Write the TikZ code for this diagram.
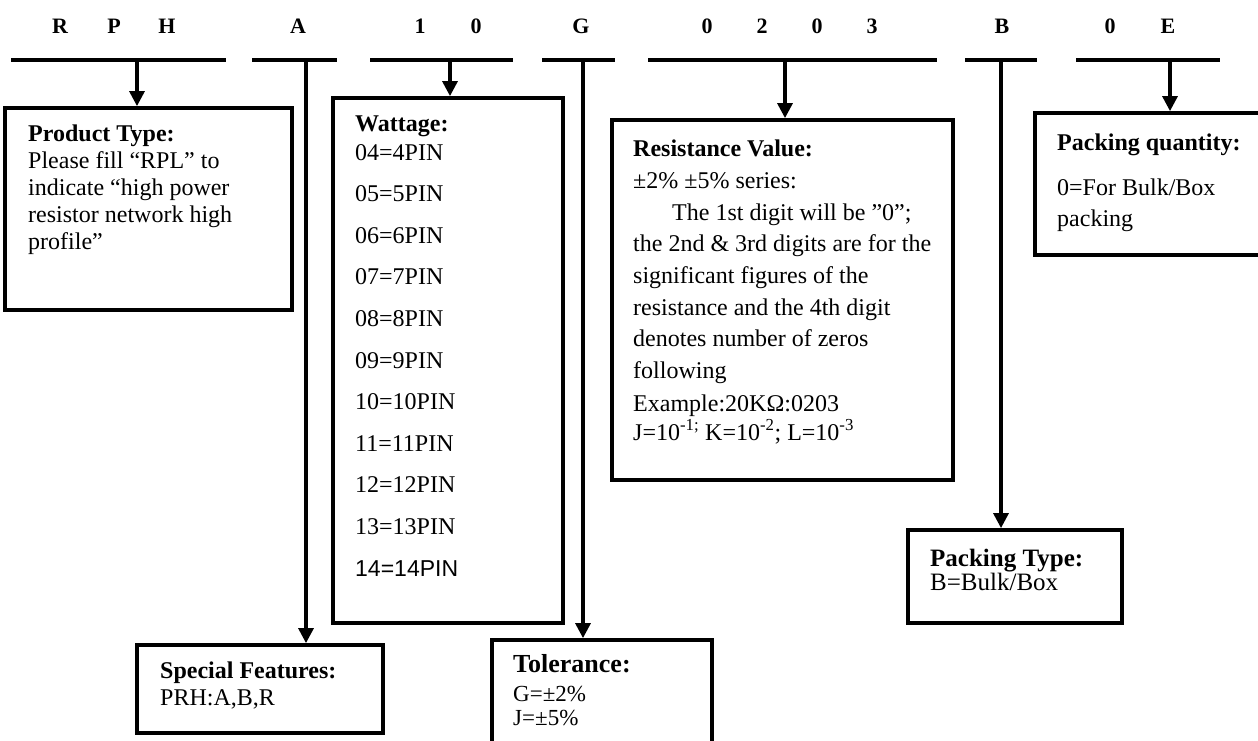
\documentclass[tikz,border=0pt]{standalone}
\usepackage{fontspec}
\setmainfont{Liberation Serif}
\newfontfamily\arialfont{Liberation Sans}
\usetikzlibrary{arrows.meta}
\begin{document}
\begin{tikzpicture}[x=1pt,y=-1pt,
  bar/.style={fill=black, draw=none, minimum height=4.5pt, inner sep=0pt, outer sep=0pt, anchor=west},
  box/.style={draw=black, line width=3.8pt, anchor=north west, inner sep=0pt, outer sep=0pt},
  arr/.style={line width=3.2pt, -{Triangle[width=15pt,length=15pt]}, shorten >=1.9pt},
  code/.style={font=\fontsize{22}{22}\selectfont\bfseries, anchor=base, inner sep=0pt},
  txt/.style={font=\fontsize{24}{24}\selectfont, anchor=base west, inner sep=0pt},
  ttl/.style={font=\fontsize{24}{24}\selectfont\bfseries, anchor=base west, inner sep=0pt},
]
\useasboundingbox (0,0) rectangle (1258,740);

% code letters
\node[code] (cR) at (60,33) {R};
\node[code] (cP) at (114,33) {P};
\node[code] (cH) at (167,33) {H};
\node[code] (cA) at (298,33) {A};
\node[code] (c1) at (420,33) {1};
\node[code] (c0a) at (476,33) {0};
\node[code] (cG) at (581,33) {G};
\node[code] (c0b) at (707,33) {0};
\node[code] (c2) at (762,33) {2};
\node[code] (c0c) at (817,33) {0};
\node[code] (c3) at (872,33) {3};
\node[code] (cB) at (1002,33) {B};
\node[code] (c0d) at (1110,33) {0};
\node[code] (cE) at (1168,33) {E};

% bars
\node[bar, minimum width=215pt] (b1) at (11,60) {};
\node[bar, minimum width=85pt] (b2) at (252,60) {};
\node[bar, minimum width=143pt] (b3) at (370,60) {};
\node[bar, minimum width=73pt] (b4) at (542,60) {};
\node[bar, minimum width=289pt] (b5) at (648,60) {};
\node[bar, minimum width=72pt] (b6) at (965,60) {};
\node[bar, minimum width=144pt] (b7) at (1076,60) {};

% boxes
\node[box, minimum width=287pt, minimum height=202pt] (pt) at (5,108) {};
\node[box, minimum width=230pt, minimum height=525pt] (wt) at (333,98) {};
\node[box, minimum width=341pt, minimum height=360pt] (rv) at (612,120) {};
\node[box, minimum width=260pt, minimum height=142pt] (pq) at (1035,113) {};
\node[box, minimum width=214pt, minimum height=93pt] (ptype) at (908,530) {};
\node[box, minimum width=246pt, minimum height=88pt] (sf) at (137,645) {};
\node[box, minimum width=220pt, minimum height=130pt] (tol) at (492,640) {};

% connector x positions
\coordinate (x1) at (137,0);
\coordinate (x2) at (306,0);
\coordinate (x3) at (450,0);
\coordinate (x4) at (583,0);
\coordinate (x5) at (785,0);
\coordinate (x6) at (1001,0);
\coordinate (x7) at (1170,0);

\draw[arr] (x1 |- b1) -- (x1 |- pt.north);
\draw[arr] (x2 |- b2) -- (x2 |- sf.north);
\draw[arr] (x3 |- b3) -- (x3 |- wt.north);
\draw[arr] (x4 |- b4) -- (x4 |- tol.north);
\draw[arr] (x5 |- b5) -- (x5 |- rv.north);
\draw[arr] (x6 |- b6) -- (x6 |- ptype.north);
\draw[arr] (x7 |- b7) -- (x7 |- pq.north);

% Product type
\node[ttl] (pt0) at (28,141) {Product Type:};
\node[txt] (pt1) at (28,168) {Please fill “RPL” to};
\node[txt] (pt2) at (28,195) {indicate “high power};
\node[txt] (pt3) at (28,222) {resistor network high};
\node[txt] (pt4) at (28,249) {profile”};

% Wattage
\node[ttl] (wt0) at (355,131) {Wattage:};
\node[txt] (w4) at (355,160) {04=4PIN};
\node[txt] (w5) at (355,201.6) {05=5PIN};
\node[txt] (w6) at (355,243.2) {06=6PIN};
\node[txt] (w7) at (355,284.8) {07=7PIN};
\node[txt] (w8) at (355,326.4) {08=8PIN};
\node[txt] (w9) at (355,368) {09=9PIN};
\node[txt] (w10) at (355,409.6) {10=10PIN};
\node[txt] (w11) at (355,451.2) {11=11PIN};
\node[txt] (w12) at (355,492.8) {12=12PIN};
\node[txt] (w13) at (355,534.4) {13=13PIN};
\node[txt, font=\fontsize{23}{23}\selectfont\arialfont] (w14) at (355,576) {14=14PIN};

% Resistance value
\node[ttl] (rv0) at (633,156) {Resistance Value:};
\node[txt] (rv1) at (633,188) {±2\% ±5\% series:};
\node[txt] (rv2) at (672,220) {The 1st digit will be ”0”;};
\node[txt] (rv3) at (633,251) {the 2nd \& 3rd digits are for the};
\node[txt] (rv4) at (633,283) {significant figures of the};
\node[txt] (rv5) at (633,315) {resistance and the 4th digit};
\node[txt] (rv6) at (633,346) {denotes number of zeros};
\node[txt] (rv7) at (633,378) {following};
\node[txt] (rv8) at (633,411) {Example:20KΩ:0203};
\node[txt] (rv9) at (633,440) {J=10\textsuperscript{-1;} K=10\textsuperscript{-2}; L=10\textsuperscript{-3}};

% Packing quantity
\node[ttl] (pq0) at (1057,150) {Packing quantity:};
\node[txt] (pq1) at (1057,195) {0=For Bulk/Box};
\node[txt] (pq2) at (1057,226) {packing};

% Packing type
\node[ttl, font=\fontsize{25}{25}\selectfont\bfseries] (ptype0) at (930,566) {Packing Type:};
\node[txt, font=\fontsize{25}{25}\selectfont] (ptype1) at (930,590) {B=Bulk/Box};

% Special features
\node[ttl] (sf0) at (160,678) {Special Features:};
\node[txt] (sf1) at (160,705) {PRH:A,B,R};

% Tolerance
\node[ttl, font=\fontsize{26}{26}\selectfont\bfseries] (tol0) at (513,672) {Tolerance:};
\node[txt, font=\fontsize{23}{23}\selectfont] (tol1) at (513,701) {G=±2\%};
\node[txt, font=\fontsize{23}{23}\selectfont] (tol2) at (513,725) {J=±5\%};
\end{tikzpicture}
\end{document}
